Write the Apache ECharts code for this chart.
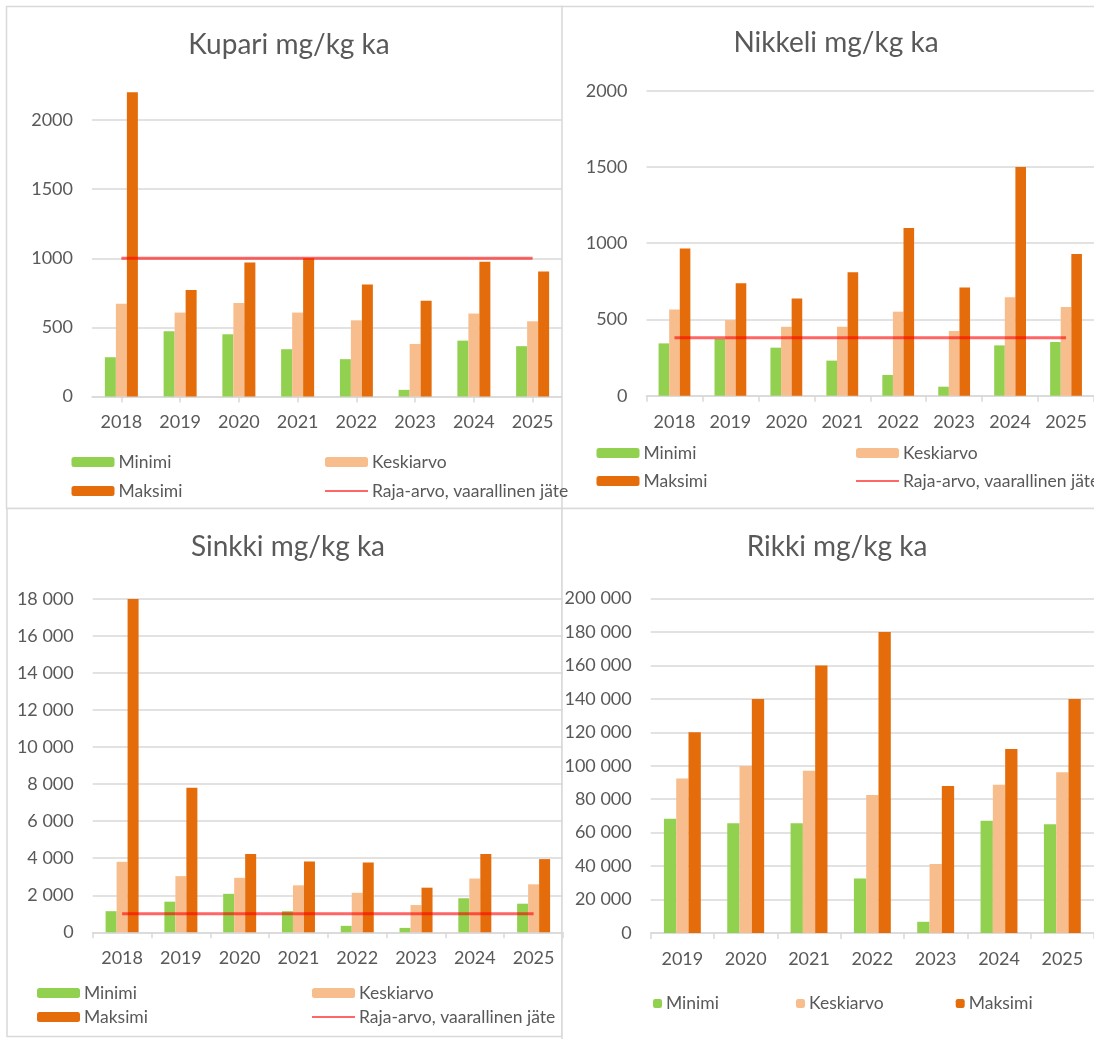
<!DOCTYPE html>
<html>
<head>
<meta charset="utf-8">
<script src="https://cdn.jsdelivr.net/npm/echarts@6/dist/echarts.min.js"></script>
<style>
  html, body { margin: 0; padding: 0; background: #ffffff; }
  #chart { width: 1094px; height: 1039px; }
</style>
</head>
<body>
<div id="chart"></div>
<script>
// Years on the category axes
const years8 = ['2018', '2019', '2020', '2021', '2022', '2023', '2024', '2025'];
const years7 = ['2019', '2020', '2021', '2022', '2023', '2024', '2025'];

// Kupari (copper), mg/kg dry matter
const kupariMin   = [284, 472, 450, 342, 270, 48, 404, 364];
const kupariKeski = [670, 607, 677, 607, 551, 380, 600, 544];
const kupariMaks  = [2200, 771, 969, 1000, 811, 693, 975, 905];
const kupariRaja  = [1000, 1000, 1000, 1000, 1000, 1000, 1000, 1000];

// Nikkeli (nickel)
const nikkeliMin   = [343, 372, 315, 230, 136, 59, 330, 352];
const nikkeliKeski = [566, 496, 452, 452, 551, 424, 645, 581];
const nikkeliMaks  = [966, 737, 638, 809, 1100, 710, 1500, 929];
const nikkeliRaja  = [380, 380, 380, 380, 380, 380, 380, 380];

// Sinkki (zinc)
const sinkkiMin   = [1140, 1655, 2078, 1140, 349, 239, 1839, 1544];
const sinkkiKeski = [3806, 3034, 2942, 2537, 2133, 1471, 2905, 2592];
const sinkkiMaks  = [18000, 7800, 4230, 3824, 3770, 2410, 4230, 3953];
const sinkkiRaja  = [1000, 1000, 1000, 1000, 1000, 1000, 1000, 1000];

// Rikki (sulphur)
const rikkiMin   = [68400, 65700, 65700, 32600, 6700, 67100, 65100];
const rikkiKeski = [92400, 99900, 97100, 82600, 41300, 88700, 96200];
const rikkiMaks  = [120000, 140000, 160000, 180000, 87900, 110000, 140000];

const seriesNames = ['Minimi', 'Keskiarvo', 'Maksimi', 'Raja-arvo, vaarallinen jäte'];

const C_MIN = '#92d050';
const C_MEAN = '#f8bd8d';
const C_MAX = '#e46c0a';
const C_LIMIT = 'rgba(255, 0, 0, 0.6)';
const TXT = '#595959';
const GRID_LINE = '#d9d9d9';
const FONT = 'Lato, "Open Sans", sans-serif';

const chart = echarts.init(document.getElementById('chart'), null, { renderer: 'canvas' });

const option = {
  animation: false,
  backgroundColor: '#ffffff',
  textStyle: { fontFamily: FONT, color: TXT },
  title: [], grid: [], xAxis: [], yAxis: [], series: [], legend: [], graphic: []
};

// Thousands grouped with a non-breaking space; small values printed plainly
function spaced(v) {
  return String(v).replace(/\B(?=(\d{3})+(?!\d))/g, '\u00a0');
}
function plain(v) {
  return String(v);
}

function legendItem(name) {
  // the limit line is shown in the legend as a bare line, without a marker
  return name === seriesNames[3] ? { name, itemStyle: { opacity: 0 } } : { name };
}

function addPanel(p) {
  const gi = option.grid.length;
  option.title.push({
    text: p.title, left: p.titleX, top: p.titleY, textAlign: 'center',
    textStyle: { fontFamily: FONT, fontSize: 28, fontWeight: 'normal', color: TXT }
  });
  option.grid.push({ left: p.grid[0], top: p.grid[1], width: p.grid[2], height: p.grid[3], containLabel: false });
  option.xAxis.push({
    type: 'category', gridIndex: gi, data: p.cats,
    axisLine: { lineStyle: { color: GRID_LINE, width: 1.5 } },
    axisTick: { show: true, alignWithLabel: !!p.tickOnLabel, length: 6, lineStyle: { color: GRID_LINE, width: 1.5 } },
    axisLabel: { color: TXT, fontSize: 18, fontFamily: FONT, margin: 17 }
  });
  option.yAxis.push({
    type: 'value', gridIndex: gi, min: 0, max: p.max, interval: p.interval,
    axisLine: { show: false }, axisTick: { show: false },
    splitLine: { lineStyle: { color: GRID_LINE, width: 1.5 } },
    axisLabel: { color: TXT, fontSize: 18, fontFamily: FONT, margin: 19, formatter: p.spaced ? spaced : plain }
  });
  const bar = (name, data, color) => ({
    type: 'bar', name, data, xAxisIndex: gi, yAxisIndex: gi,
    barWidth: p.barWidth, barGap: '0%', clip: false,
    itemStyle: { color }
  });
  option.series.push(bar(seriesNames[0], p.min, C_MIN));
  option.series.push(bar(seriesNames[1], p.mean, C_MEAN));
  option.series.push(bar(seriesNames[2], p.maks, C_MAX));
  if (p.limit) {
    option.series.push({
      type: 'line', name: seriesNames[3], data: p.limit, xAxisIndex: gi, yAxisIndex: gi,
      symbol: 'none', showSymbol: false, z: 5,
      lineStyle: { color: C_LIMIT, width: 3 }, itemStyle: { color: C_LIMIT }
    });
  }
  p.legends.forEach(l => {
    option.legend.push({
      data: l.data.map(legendItem), left: l.left, top: l.top, orient: 'vertical',
      itemWidth: l.w || 43, itemHeight: l.h || 10, itemGap: l.gap || 9,
      selectedMode: false,
      textStyle: { color: TXT, fontSize: 17.5, fontFamily: FONT, lineHeight: 20, padding: [0, 0, 0, -1] }
    });
  });
  option.graphic.push({
    type: 'rect', z: -10, silent: true,
    shape: { x: p.frame[0], y: p.frame[1], width: p.frame[2], height: p.frame[3] },
    style: { fill: '#ffffff', stroke: GRID_LINE, lineWidth: 1.5 }
  });
}

addPanel({
  title: 'Kupari mg/kg ka', titleX: 284, titleY: 26,
  grid: [92, 120, 470, 276.5], cats: years8, max: 2000, interval: 500, tickOnLabel: true,
  barWidth: 11, min: kupariMin, mean: kupariKeski, maks: kupariMaks, limit: kupariRaja,
  frame: [6.5, 6.5, 556, 502],
  legends: [
    { data: [seriesNames[0], seriesNames[2]], left: 66.5, top: 447 },
    { data: [seriesNames[1], seriesNames[3]], left: 319, top: 447 }
  ]
});

addPanel({
  title: 'Nikkeli mg/kg ka', titleX: 831, titleY: 24,
  grid: [646.5, 90.7, 457.6, 305], cats: years8, max: 2000, interval: 500,
  barWidth: 10.6, min: nikkeliMin, mean: nikkeliKeski, maks: nikkeliMaks, limit: nikkeliRaja,
  frame: [562, 6.5, 545, 502],
  legends: [
    { data: [seriesNames[0], seriesNames[2]], left: 591.5, top: 438, gap: 8 },
    { data: [seriesNames[1], seriesNames[3]], left: 850, top: 438, gap: 8 }
  ]
});

addPanel({
  title: 'Sinkki mg/kg ka', titleX: 283, titleY: 528,
  grid: [92.7, 599, 470.3, 333.3], cats: years8, max: 18000, interval: 2000, spaced: true,
  barWidth: 11, min: sinkkiMin, mean: sinkkiKeski, maks: sinkkiMaks, limit: sinkkiRaja,
  frame: [7, 508.5, 555, 528],
  legends: [
    { data: [seriesNames[0], seriesNames[2]], left: 32, top: 978, gap: 4 },
    { data: [seriesNames[1], seriesNames[3]], left: 306, top: 978, gap: 4 }
  ]
});

addPanel({
  title: 'Rikki mg/kg ka', titleX: 832, titleY: 528,
  grid: [650.7, 598.6, 450.8, 334.4], cats: years7, max: 200000, interval: 20000, spaced: true,
  barWidth: 12.3, min: rikkiMin, mean: rikkiKeski, maks: rikkiMaks, limit: null,
  frame: [562, 508.5, 545, 532],
  legends: [
    { data: [seriesNames[0]], left: 648, top: 988.5, w: 9, h: 9 },
    { data: [seriesNames[1]], left: 791, top: 988.5, w: 9, h: 9 },
    { data: [seriesNames[2]], left: 950.7, top: 988.5, w: 9, h: 9 }
  ]
});

chart.setOption(option);
</script>
</body>
</html>
